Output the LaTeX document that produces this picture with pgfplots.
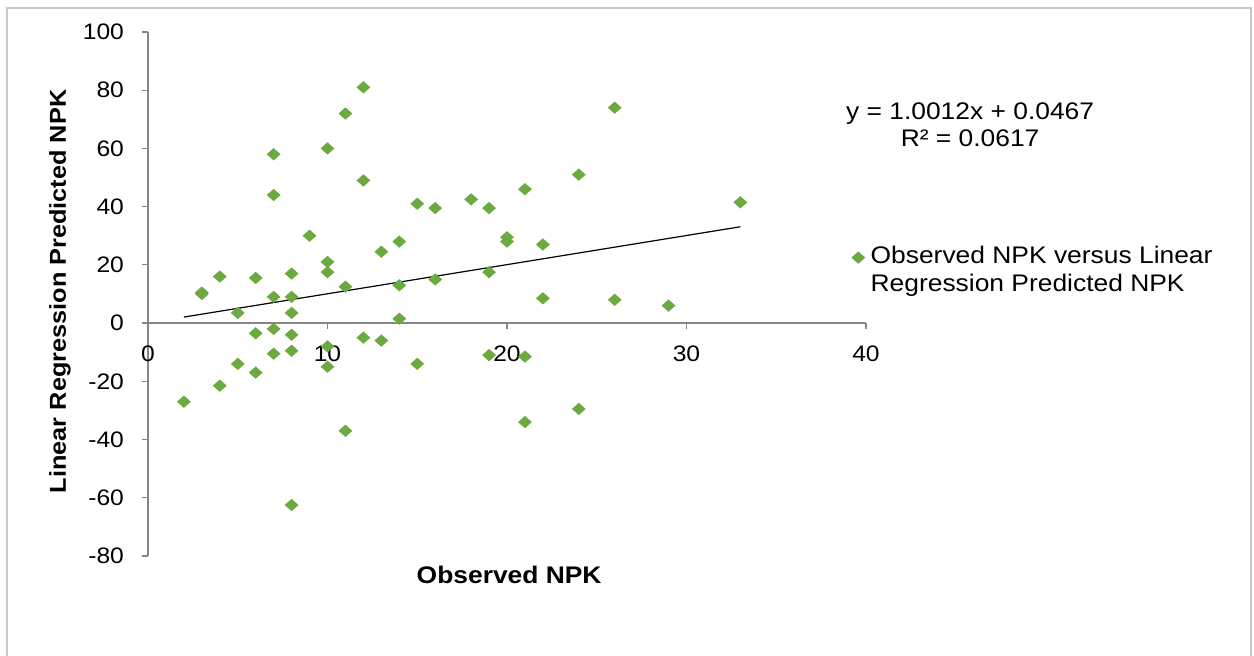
\documentclass[border=0pt]{standalone}
\usepackage{fontspec}
\setmainfont{Liberation Sans}[FakeStretch=1.1]
\usepackage{pgfplots}
\pgfplotsset{compat=1.18}
\definecolor{ptgreen}{RGB}{108,170,64}
\definecolor{axgray}{RGB}{134,134,134}
\definecolor{framegray}{RGB}{200,200,200}
\begin{document}
\begin{tikzpicture}
\useasboundingbox (-74pt,-50pt) rectangle (553pt,278pt);
\draw[framegray, line width=0.75pt] (-70.5pt,-50pt) -- (-70.5pt,274pt) -- (551.5pt,274pt) -- (551.5pt,-50pt);
\begin{axis}[
  scale only axis,
  width=359pt, height=262pt,
  xmin=0, xmax=40, ymin=-80, ymax=100,
  axis x line*=middle, axis y line*=left,
  hide obscured x ticks=false, hide obscured y ticks=false,
  axis line style={axgray, line width=0.6pt},
  xtick={0,10,20,30,40}, xticklabels={0,10,20,30,40},
  ytick={-80,-60,-40,-20,0,20,40,60,80,100},
  yticklabels={-80,-60,-40,-20,0,20,40,60,80,100},
  tick align=outside, major tick length=3pt,
  tick style={axgray, line width=0.6pt},
  ticklabel style={font=\fontsize{11.2}{13}\selectfont},
  xticklabel style={yshift=-5pt},
  yticklabel style={xshift=-5.5pt},
  xlabel={Observed NPK},
  ylabel={Linear Regression Predicted NPK},
  every axis x label/.style={at={(axis description cs:0.503,-0.036)}, anchor=center, font=\fontsize{12}{14}\selectfont\bfseries},
  every axis y label/.style={at={(axis description cs:-0.1226,0.505)}, rotate=90, anchor=center, font=\fontsize{11.5}{14}\selectfont\bfseries},
  clip=false,
  legend style={at={(axis description cs:0.98,0.603)}, anchor=north west, draw=none, fill=none, inner sep=0pt,
    nodes={inner sep=3pt}, font=\fontsize{12}{14}\selectfont},
  legend image code/.code={\draw[#1] plot coordinates {(0pt,-0.5pt)};},
]
\addplot[only marks, mark=diamond*, mark size=2.8pt, mark options={xscale=1.5, draw=ptgreen, fill=ptgreen}] coordinates {
(2,-27) (3,10.5) (3,10) (4,16) (4,-21.5) (5,3.5) (5,-14)
(6,15.5) (6,-3.5) (6,-17)
(7,58) (7,44) (7,9) (7,-2) (7,-10.5)
(8,17) (8,9) (8,3.5) (8,-4) (8,-9.5) (8,-62.5)
(9,30)
(10,60) (10,21) (10,17.5) (10,-8) (10,-15)
(11,72) (11,12.5) (11,-37)
(12,81) (12,49) (12,-5)
(13,24.5) (13,-6)
(14,28) (14,13) (14,1.5)
(15,41) (15,-14)
(16,39.5) (16,15)
(18,42.5)
(19,39.5) (19,17.5) (19,-11)
(20,29.5) (20,28)
(21,46) (21,-11.5) (21,-34)
(22,27) (22,8.5)
(24,51) (24,-29.5)
(26,74) (26,8)
(29,6)
(33,41.5)
};
\addlegendentry{\parbox[t]{200pt}{\fontsize{12}{14}\selectfont Observed NPK versus Linear\\Regression Predicted NPK}}
\addplot[black, line width=0.6pt, forget plot] coordinates {(2,2.07) (33,33.09)};
\node[align=center, font=\fontsize{12}{13.5}\selectfont] at (axis cs:45.8,68.2) {y = 1.0012x + 0.0467\\R² = 0.0617};
\end{axis}
\end{tikzpicture}
\end{document}
